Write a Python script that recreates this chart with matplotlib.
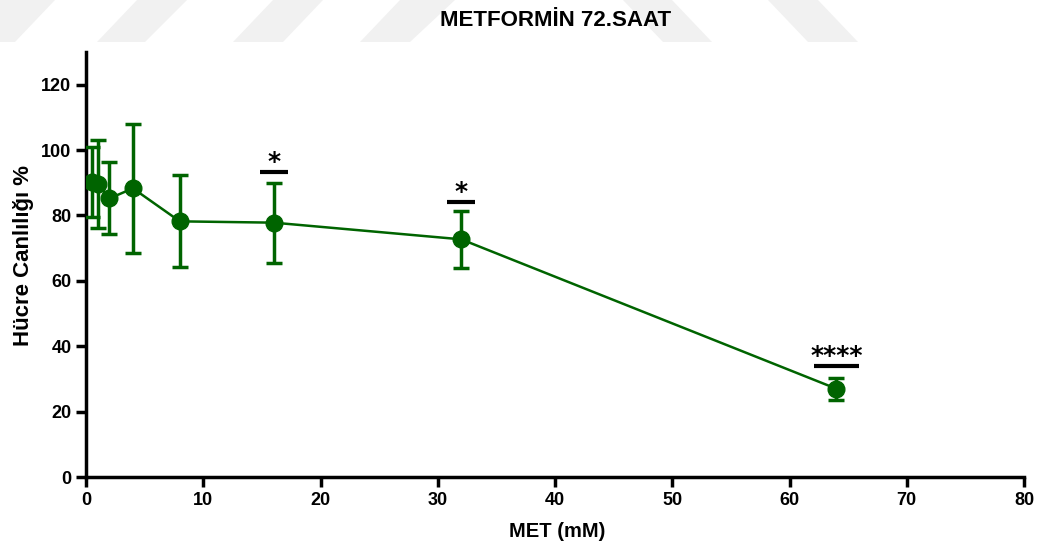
import matplotlib.pyplot as plt
from matplotlib.patches import Polygon

plt.rcParams['font.family'] = ['Liberation Sans', 'DejaVu Sans']
plt.rcParams['font.weight'] = 'bold'

doses = [0.5, 1, 2, 4, 8, 16, 32, 64]
viability = [90.2, 89.6, 85.2, 88.3, 78.2, 77.8, 72.7, 27.0]
sd = [10.7, 13.4, 11.0, 19.7, 14.1, 12.2, 8.8, 3.3]

sig_x = [16, 32, 64]
sig_y = [93.3, 84.1, 33.9]
sig_label = ['*', '*', '****']

green = '#006400'
W, H = 1051, 549

fig = plt.figure(figsize=(10.51, 5.49), dpi=100)

# faint watermark stripes along the top edge (pixel corners: top-left, top-right, bottom-right, bottom-left)
stripes = [
    (0, 55, 15, -40),
    (137, 187, 145, 97),
    (273, 323, 283, 233),
    (400, 455, 410, 360),
    (623, 672, 712, 663),
    (768, 818, 858, 808),
]
for tl, tr, br, bl in stripes:
    pts = [(tl / W, 1.0), (tr / W, 1.0), (br / W, 1 - 42 / H), (bl / W, 1 - 42 / H)]
    fig.patches.append(Polygon(pts, closed=True, transform=fig.transFigure,
                               facecolor='#f1f1f1', edgecolor='none', zorder=0))

ax = fig.add_axes([86 / W, 1 - 477 / H, 938 / W, 425 / H])
ax.patch.set_alpha(0)

ax.errorbar(doses, viability, yerr=sd, color=green, marker='o', markersize=12,
            linewidth=1.8, elinewidth=2.5, capsize=6, capthick=2.5, zorder=3)

for x, y, lab in zip(sig_x, sig_y, sig_label):
    half = 1.2 if lab == '*' else 1.9
    ax.plot([x - half, x + half], [y, y], color='black', linewidth=3, solid_capstyle='butt')
    ax.text(x, y + 0.9, lab, ha='center', va='baseline', fontsize=18,
            fontweight='bold', family='DejaVu Sans')

ax.set_xlim(0, 80)
ax.set_ylim(0, 130)
ax.set_xticks(range(0, 81, 10))
ax.set_yticks(range(0, 121, 20))
ax.spines['top'].set_visible(False)
ax.spines['right'].set_visible(False)
for s in ['left', 'bottom']:
    ax.spines[s].set_linewidth(2.5)
ax.tick_params(width=2.5, length=7, labelsize=13)
for lab in ax.get_xticklabels() + ax.get_yticklabels():
    lab.set_fontweight('bold')

ax.set_xlabel('MET (mM)', fontsize=14.5, fontweight='bold')
ax.set_ylabel('Hücre Canlılığı %', fontsize=16, fontweight='bold')
ax.xaxis.set_label_coords(0.502, -0.105)
ax.yaxis.set_label_coords(-0.055, 0.52)
fig.text(0.529, 0.963, 'METFORMİN 72.SAAT', ha='center', va='center',
         fontsize=16, fontweight='bold')

fig.savefig('out.png', dpi=100)
